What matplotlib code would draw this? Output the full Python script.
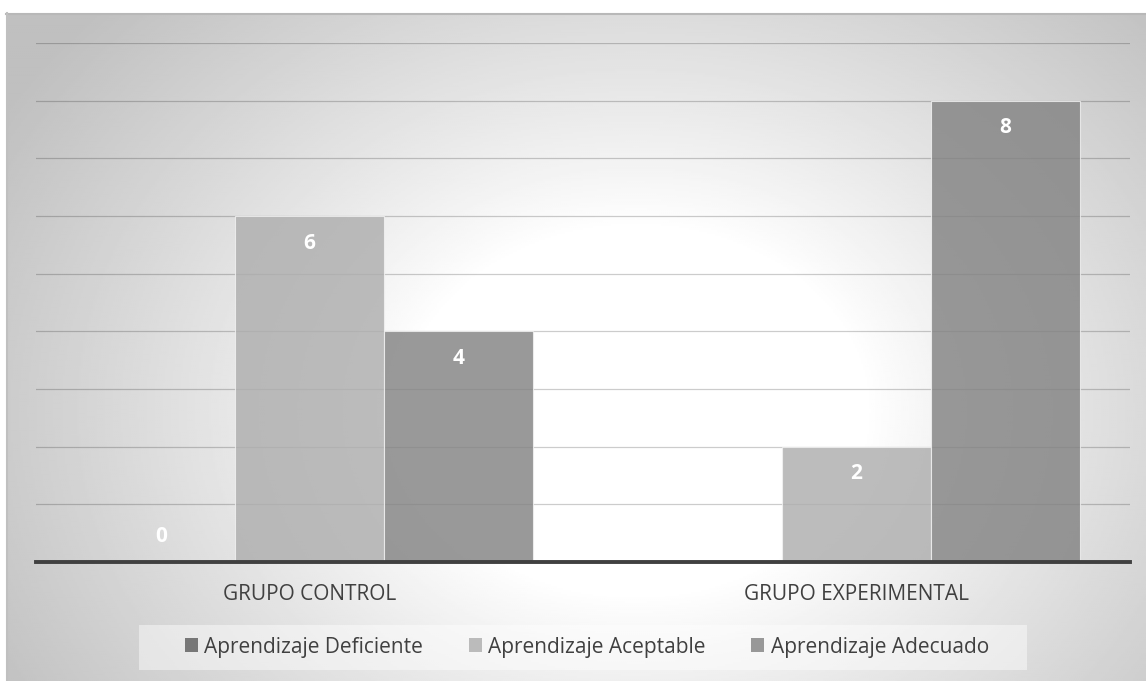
import numpy as np
import matplotlib.pyplot as plt
from matplotlib.patches import Patch, Rectangle

# categorias y series
grupos = ["GRUPO CONTROL", "GRUPO EXPERIMENTAL"]
series = ["Aprendizaje Deficiente", "Aprendizaje Aceptable", "Aprendizaje Adecuado"]
deficiente = [0, None]
aceptable = [6, 2]
adecuado = [4, 8]
valores = [deficiente, aceptable, adecuado]
colores = ["#5e5e5e", "#aeaeae", "#838383"]

plt.rcParams['font.family'] = ['Open Sans', 'DejaVu Sans']

W, H = 1146, 681
fig = plt.figure(figsize=(W / 100, H / 100), dpi=100)
fig.patch.set_facecolor("white")

# fondo con degradado radial
bg = fig.add_axes([6 / W, 0, 1 - 6 / W, 1 - 13 / H], zorder=-10)
ny, nx = 340, 570
yy, xx = np.mgrid[0:ny, 0:nx]
xx = xx / nx * (W - 6) + 6
yy = yy / ny * (H - 13) + 13
r = np.hypot((xx - 635) / 1.0, (yy - 410) / 0.8)
t = np.clip((r - 230) / 510, 0, 1) ** 0.9
img = 1 - 0.25 * t
bg.imshow(img, cmap="gray", vmin=0, vmax=1, extent=[0, 1, 0, 1], aspect="auto", interpolation="bilinear")
bg.set_xlim(0, 1)
bg.set_ylim(0, 1)
bg.axis("off")
bg.plot([0, 1], [0.998, 0.998], color="#b8b8b8", lw=1.5, transform=bg.transAxes, clip_on=False)
bg.plot([0.001, 0.001], [0, 1], color="#c0c0c0", lw=1.5, transform=bg.transAxes, clip_on=False)

ax = fig.add_axes([36 / W, 1 - 562 / H, 1094 / W, (562 - 43) / H])
ax.set_facecolor("none")
x = np.arange(len(grupos))
ancho = 0.272
for i, (vals, col) in enumerate(zip(valores, colores)):
    off = (i - 1) * ancho
    for j, v in enumerate(vals):
        if v is None:
            continue
        ax.bar(x[j] + off, v, ancho, color=col, alpha=0.82, edgecolor="#f2f2f2", linewidth=0.8, zorder=2)
        dy = -19.5 if v > 0 else 18
        ax.annotate(str(v), (x[j] + off, v), xytext=(0, dy), textcoords="offset points",
                    ha="center", va="center", color="white", fontsize=15, fontweight="bold", zorder=4)

ax.set_xlim(-0.5, 1.5)
ax.set_ylim(0, 9)
ax.set_yticks(np.arange(1, 10))
ax.yaxis.grid(True, color="black", alpha=0.2, linewidth=0.9, zorder=1)
ax.set_axisbelow(True)
ax.tick_params(left=False, bottom=False, labelleft=False)
for s in ax.spines.values():
    s.set_visible(False)
ax.axhline(0, color="#404040", linewidth=2.8, zorder=3, clip_on=False)
ax.set_xticks(x)
ax.set_xticklabels(grupos, fontsize=15, color="#404040")
ax.tick_params(axis="x", pad=12)

# caja de la leyenda
fig.patches.append(Rectangle((139 / W, 1 - 670 / H), (1027 - 139) / W, 45 / H,
                             transform=fig.transFigure, facecolor="white", alpha=0.45,
                             edgecolor="none", zorder=0))
handles = [Patch(facecolor=c, alpha=0.82, edgecolor="none") for c in colores]
leg = fig.legend(handles, series, loc="center", bbox_to_anchor=(587 / W, 1 - 647 / H), ncol=3,
                 fontsize=15, frameon=False, handlelength=0.62, handleheight=0.62,
                 handletextpad=0.3, columnspacing=2.2, borderpad=0.2, labelcolor="#404040")

fig.savefig("out.png", dpi=100)
